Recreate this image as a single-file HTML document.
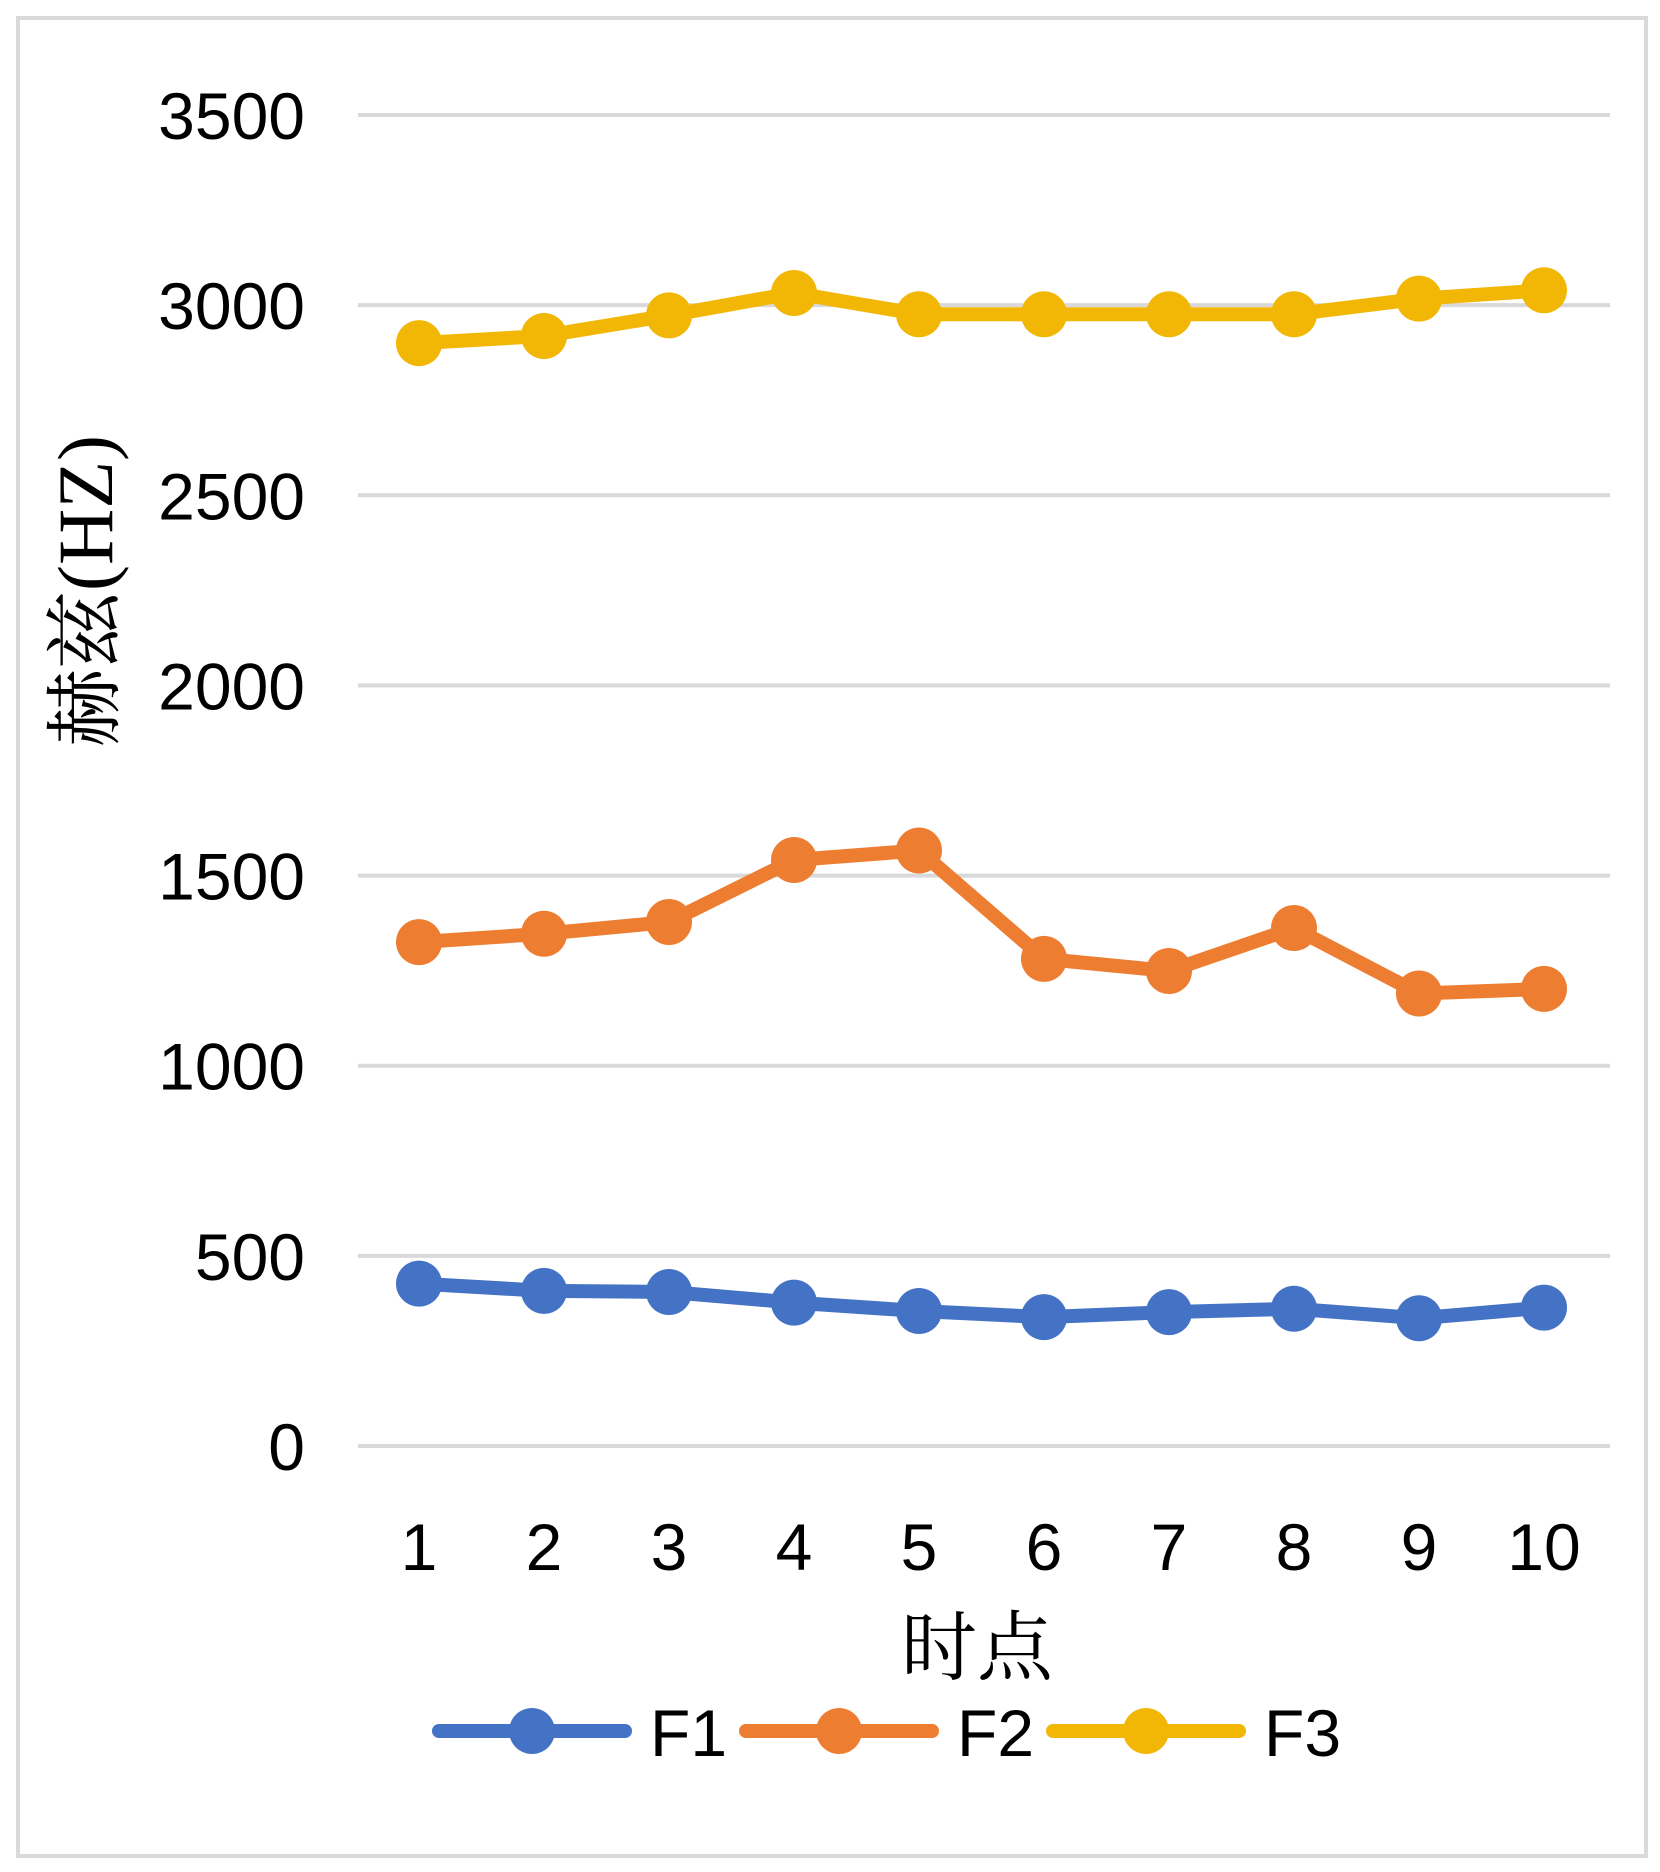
<!DOCTYPE html>
<html><head><meta charset="utf-8"><style>
html,body{margin:0;padding:0;background:#fff;}
svg{display:block;}
text{font-family:"Liberation Sans","Noto Sans CJK SC",sans-serif;fill:#000;}
</style></head><body>
<svg id="chart" width="1660" height="1872" viewBox="0 0 1660 1872">
<rect x="18" y="18" width="1628" height="1838" fill="#fff" stroke="#d9d9d9" stroke-width="4"/>
<g id="grid"></g><g id="yticks"></g><g id="xticks"></g><g id="series"></g>
<text transform="translate(112,591) rotate(-90)" text-anchor="middle" font-size="78" style="font-family:'Liberation Serif','Noto Serif CJK SC',serif">赫兹(HZ)</text>
<text x="977" y="1674" text-anchor="middle" font-size="76" style="font-family:'Liberation Serif','Noto Serif CJK SC',serif">时点</text>
<g id="legend"></g>
</svg>
<script>
const categories=["1","2","3","4","5","6","7","8","9","10"];
const f1=[427,408,405,377,355,339,352,361,336,364];
const f2=[1325,1347,1378,1541,1566,1281,1249,1362,1190,1202];
const f3=[2900,2919,2973,3032,2976,2976,2976,2976,3017,3039];
const yTicks=[0,500,1000,1500,2000,2500,3000,3500];
const seriesNames=["F1","F2","F3"];
const colors=["#4472c4","#ed7d31","#f2b705"];
const NS="http://www.w3.org/2000/svg";
const y=v=>1446-v*(1446-115)/3500;
const x=i=>419+i*125;
function mk(tag,attrs,parent){const e=document.createElementNS(NS,tag);for(const k in attrs)e.setAttribute(k,attrs[k]);document.getElementById(parent).appendChild(e);return e;}
yTicks.forEach(t=>{
  const l=mk('line',{x1:358,x2:1610,y1:y(t),y2:y(t),stroke:'#d9d9d9','stroke-width':4},'grid');
  
  
  const tx=mk('text',{x:305,y:y(t)+24,'text-anchor':'end','font-size':66},'yticks');
  tx.textContent=t;
  
  
});
categories.forEach((c,i)=>{
  const tx=mk('text',{x:x(i),y:1570,'text-anchor':'middle','font-size':66},'xticks');
  tx.textContent=c;
  
  
});
[f1,f2,f3].forEach((s,k)=>{
  const p=mk('polyline',{points:s.map((v,i)=>x(i)+','+y(v)).join(' '),fill:'none',stroke:colors[k],'stroke-width':14,'stroke-linejoin':'round'},'series');
  
  
  s.forEach((v,i)=>{
    const c=mk('circle',{cx:x(i),cy:y(v),r:23,fill:colors[k]},'series');
    
    
  });
});
const lx=[439,746,1053];
seriesNames.forEach((n,k)=>{
  const g=mk('g',{},'legend');
  
  
  const ln=document.createElementNS(NS,'line');
  ln.setAttribute('x1',lx[k]);ln.setAttribute('x2',lx[k]+186);ln.setAttribute('y1',1731);ln.setAttribute('y2',1731);
  ln.setAttribute('stroke',colors[k]);ln.setAttribute('stroke-width',14);ln.setAttribute('stroke-linecap','round');
  g.appendChild(ln);
  const c=document.createElementNS(NS,'circle');
  c.setAttribute('cx',lx[k]+93);c.setAttribute('cy',1731);c.setAttribute('r',23);c.setAttribute('fill',colors[k]);
  g.appendChild(c);
  const t=document.createElementNS(NS,'text');
  t.setAttribute('x',lx[k]+211);t.setAttribute('y',1756);t.setAttribute('font-size',66);
  t.textContent=n;
  g.appendChild(t);
});
</script>
</body></html>
